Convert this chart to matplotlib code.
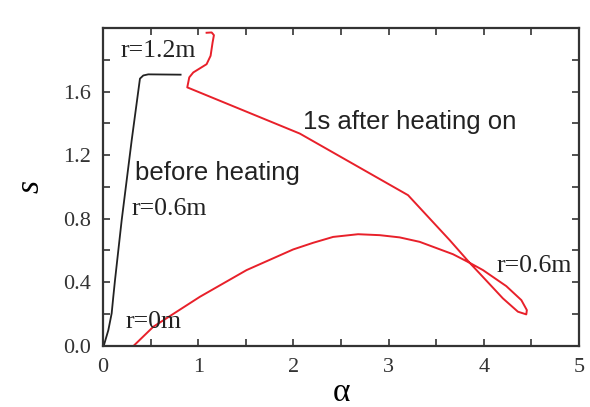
import numpy as np
import matplotlib
matplotlib.use('Agg')
import matplotlib.pyplot as plt
from matplotlib.ticker import MultipleLocator

# before heating (black), r = 0 .. 1.2 m
alpha_before = [0.0, 0.010, 0.056, 0.091, 0.108, 0.126, 0.196, 0.301, 0.388,
                0.423, 0.475, 0.815]
s_before = [0.0, 0.003, 0.097, 0.203, 0.307, 0.412, 0.789, 1.292, 1.681,
            1.701, 1.708, 1.706]

# 1 s after heating on (red), r = 0 .. 1.2 m
alpha_after = [0.325, 0.528, 1.018, 1.508, 1.997, 2.207, 2.417, 2.679, 2.907,
               3.116, 3.326, 3.676, 3.851, 3.991, 4.236, 4.394, 4.452, 4.446,
               4.358, 4.200, 3.956, 3.851, 3.641, 3.204, 2.067, 0.885, 0.906,
               0.948, 1.088, 1.130, 1.151, 1.165, 1.141, 1.088]
s_after = [0.0, 0.118, 0.307, 0.475, 0.605, 0.647, 0.684, 0.701, 0.695,
           0.681, 0.653, 0.575, 0.521, 0.475, 0.374, 0.286, 0.223, 0.196,
           0.213, 0.297, 0.454, 0.521, 0.664, 0.947, 1.335, 1.626, 1.689,
           1.720, 1.772, 1.825, 1.909, 1.955, 1.972, 1.970]

SERIF = ['Liberation Serif', 'DejaVu Serif']
SANS = ['Liberation Sans', 'DejaVu Sans']

fig = plt.figure(figsize=(5.9, 4.07), dpi=100)
ax = fig.add_axes([0.1746, 0.1511, 0.8068, 0.7801])

ax.plot(alpha_before, s_before, color='#222222', lw=1.3)
ax.plot(alpha_after, s_after, color='#e8202a', lw=1.4)

ax.set_xlim(0, 5)
ax.set_ylim(0, 2.0)
ax.xaxis.set_major_locator(MultipleLocator(1))
ax.xaxis.set_minor_locator(MultipleLocator(0.5))
ax.set_yticks([0.0, 0.4, 0.8, 1.2, 1.6])
ax.yaxis.set_minor_locator(MultipleLocator(0.2))
ax.set_yticklabels(['0.0', '0.4', '0.8', '1.2', '1.6'])

ax.tick_params(which='both', direction='in', top=True, right=True,
               length=5, width=1.2, color='#333333')
ax.tick_params(which='major', pad=9)
for lab in ax.get_xticklabels() + ax.get_yticklabels():
    lab.set_family(SERIF)
    lab.set_fontsize(16)
    lab.set_color('#333333')
for sp in ax.spines.values():
    sp.set_linewidth(1.6)
    sp.set_color('#333333')

ax.set_xlabel('α', family=SERIF, fontsize=24, labelpad=0)
ax.set_ylabel('s', family=SERIF, style='italic', fontsize=24, labelpad=12)

ax.text(0.185, 1.816, 'r=1.2m', family=SERIF, fontsize=18.5, color='#222222')
ax.text(0.301, 0.821, 'r=0.6m', family=SERIF, fontsize=18.5, color='#222222')
ax.text(0.231, 0.108, 'r=0m', family=SERIF, fontsize=18.5, color='#222222')
ax.text(4.131, 0.464, 'r=0.6m', family=SERIF, fontsize=18.5, color='#222222')
ax.text(0.336, 1.041, 'before heating', family=SANS, fontsize=18.5,
        color='#222222')
ax.text(2.102, 1.366, '1s after heating on', family=SANS, fontsize=18.5,
        color='#222222')

fig.savefig('out.png', dpi=100)
